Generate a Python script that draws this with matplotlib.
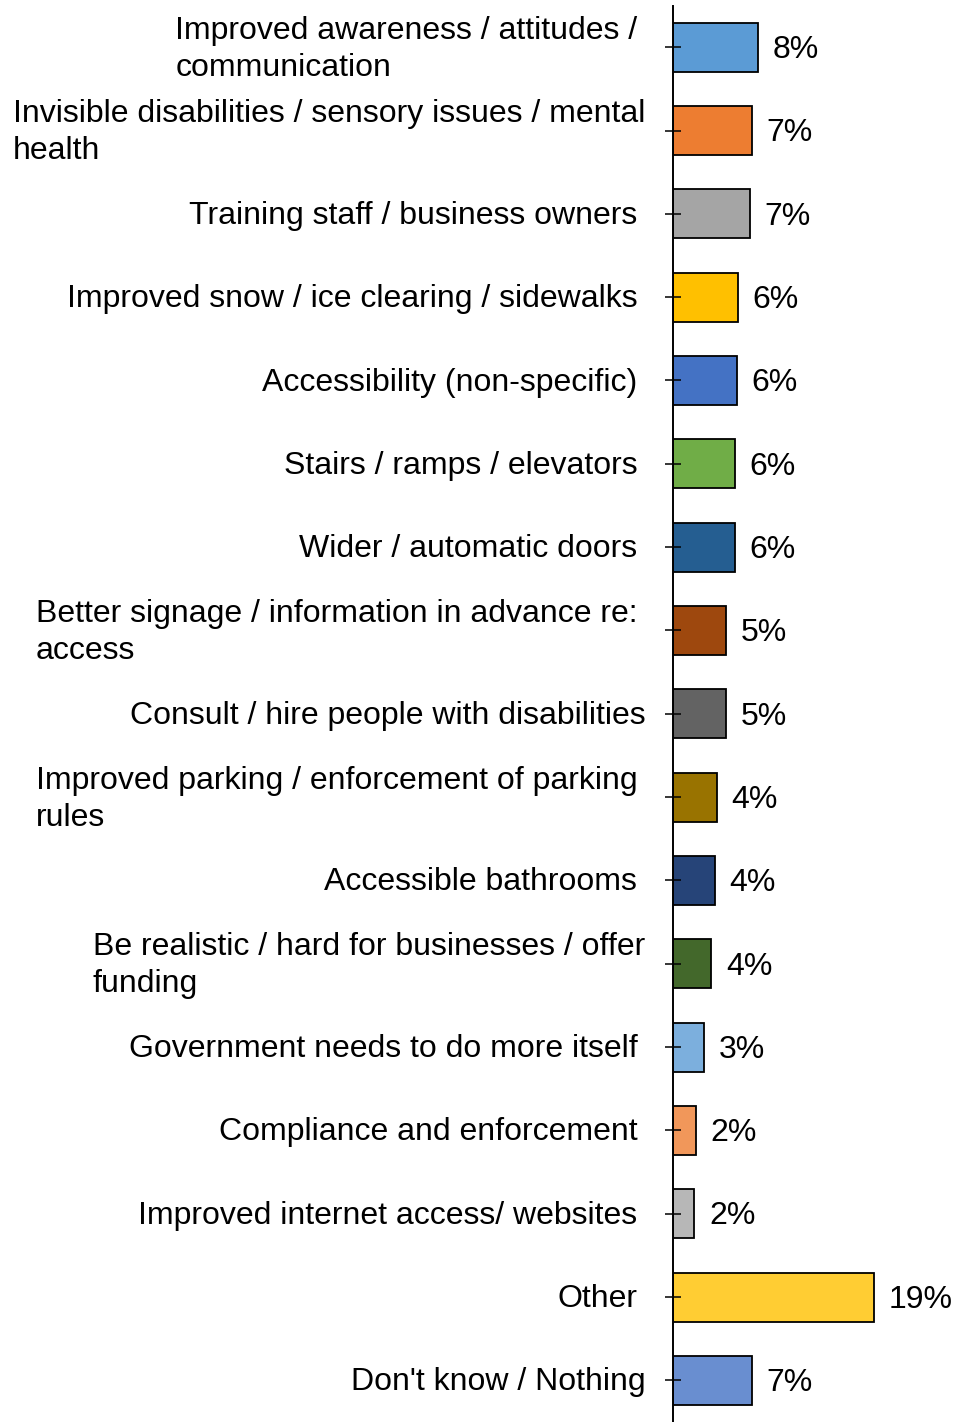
import matplotlib
matplotlib.use("Agg")
import matplotlib.pyplot as plt

plt.rcParams['font.family'] = ['Liberation Sans', 'DejaVu Sans']

# --- data: share of responses per suggestion (%) ---
categories = [
    "Improved awareness / attitudes /\ncommunication",
    "Invisible disabilities / sensory issues / mental\nhealth",
    "Training staff / business owners",
    "Improved snow / ice clearing / sidewalks",
    "Accessibility (non-specific)",
    "Stairs / ramps / elevators",
    "Wider / automatic doors",
    "Better signage / information in advance re:\naccess",
    "Consult / hire people with disabilities",
    "Improved parking / enforcement of parking\nrules",
    "Accessible bathrooms",
    "Be realistic / hard for businesses / offer\nfunding",
    "Government needs to do more itself",
    "Compliance and enforcement",
    "Improved internet access/ websites",
    "Other",
    "Don't know / Nothing",
]
shares = [8.0, 7.4, 7.2, 6.1, 6.0, 5.8, 5.8, 5.0, 5.0, 4.1, 3.9, 3.6, 2.9, 2.1, 2.0, 18.9, 7.4]

colors = [
    "#5B9BD5", "#ED7D31", "#A5A5A5", "#FFC000", "#4472C4", "#70AD47",
    "#255E91", "#9E480E", "#636363", "#997300", "#264478", "#43682B",
    "#7CAFDD", "#F1975A", "#B7B7B7", "#FFCD33", "#698ED0",
]

# rows whose label sits a little closer to the axis
near_axis = {1, 8, 11, 16}

FS = 23

fig = plt.figure(figsize=(9.58, 14.22), dpi=100)
ax = fig.add_axes([0.7028, 0.0, 0.2877, 0.9961])

ypos = list(range(len(categories)))
ax.barh(ypos, shares, height=0.588, color=colors, edgecolor="black", linewidth=1.3)

ax.set_xlim(0, 26)
ax.set_ylim(len(categories) - 0.5, -0.5)
ax.set_axisbelow(False)

for side in ("top", "right", "bottom"):
    ax.spines[side].set_visible(False)
ax.spines["left"].set_linewidth(1.4)
ax.set_xticks([])
ax.set_yticks(ypos)
ax.set_yticklabels([])
ax.tick_params(axis="y", direction="inout", length=11, width=1.1, color="black")

# category labels, left-aligned blocks set right of the axis
for i, label in enumerate(categories):
    gap = 20.2 if i in near_axis else 25.9
    ax.annotate(label, xy=(0, i), xycoords=("axes fraction", "data"),
                xytext=(-gap, -1.5), textcoords="offset points",
                ha="right", va="center", multialignment="left",
                fontsize=FS, linespacing=1.3)

# value labels at the end of each bar
for i, v in enumerate(shares):
    ax.annotate(f"{v:.0f}%", xy=(v, i), xytext=(10.5, -2.0), textcoords="offset points",
                ha="left", va="center", fontsize=FS)

fig.savefig("out.png", dpi=100)
